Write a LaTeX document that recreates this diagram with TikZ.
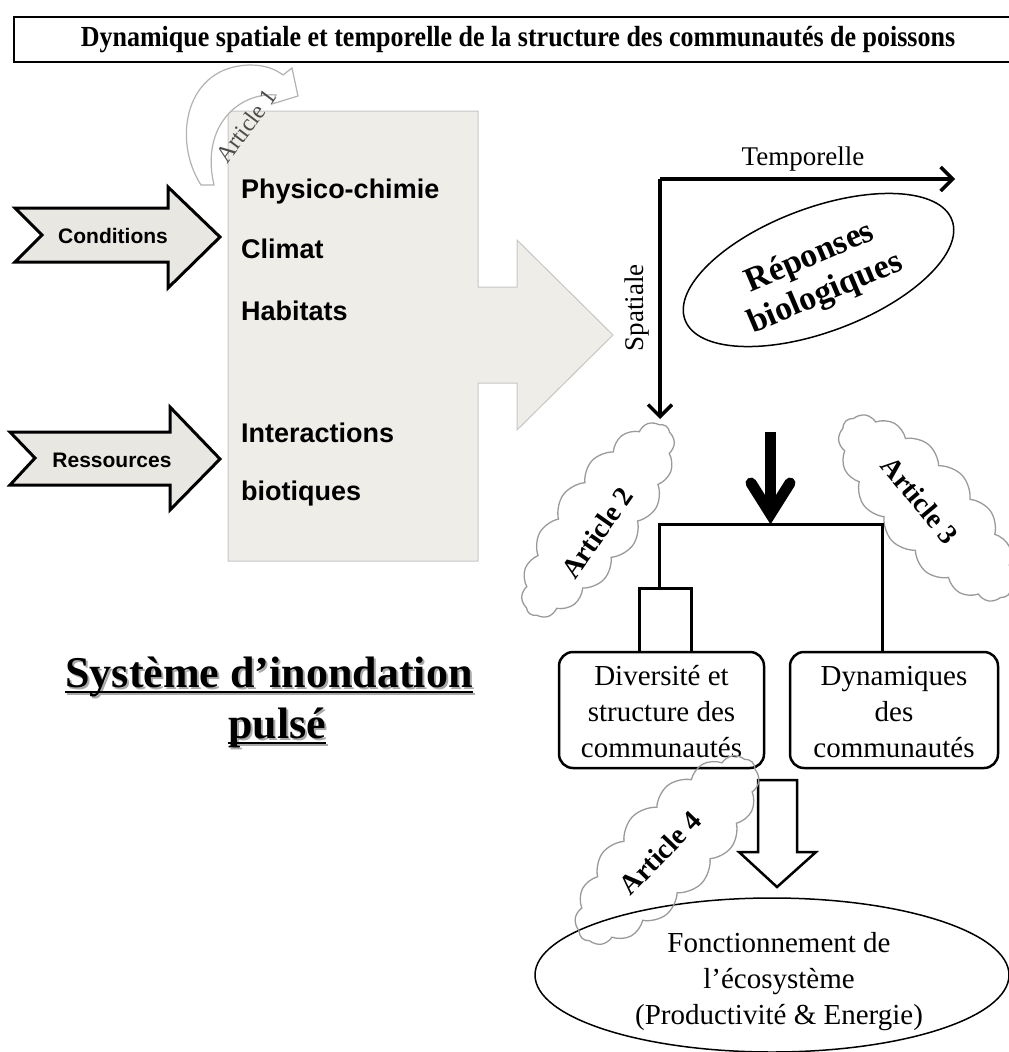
\documentclass[tikz,border=0pt]{standalone}
\usepackage{fontspec}
\setmainfont{Liberation Serif}
\newfontfamily\arialf{Liberation Sans}
\usetikzlibrary{arrows.meta,shapes.geometric,shapes.symbols,calc}
\definecolor{boxfill}{HTML}{EFEDE7}
\definecolor{arrfill}{HTML}{E9E7E1}
\definecolor{cloudline}{HTML}{9A9A9A}
\definecolor{shadowc}{HTML}{A8A8A8}
\newcommand\myul[1]{\setbox0\hbox{#1}\rlap{\rule[-6pt]{\wd0}{2.5pt}}\box0}
\begin{document}
\begin{tikzpicture}[x=1pt,y=-1pt,
  sanslbl/.style={font=\arialf\bfseries\fontsize{27}{32}\selectfont, anchor=base west, inner sep=0},
  condlbl/.style={font=\arialf\bfseries\fontsize{21}{25}\selectfont, inner sep=0},
  seriftxt/.style={font=\fontsize{29}{36}\selectfont, align=center, inner sep=0},
  cloudy/.style={cloud, cloud puffs=16, cloud puff arc=100, cloud ignores aspect, draw=cloudline, line width=1.3pt, inner sep=0},
  artlbl/.style={font=\bfseries\fontsize{28}{32}\selectfont, inner sep=0},
  blockarrow/.style={fill=arrfill, draw=black, line width=3pt, line join=miter},
  dend/.style={line width=3pt, line join=miter},
  axis/.style={line width=3.5pt, -{Straight Barb[length=12pt,width=24pt]}},
  rbox/.style={draw, line width=2.5pt, rounded corners=14pt, minimum height=116pt, inner sep=0},
  bigtxt/.style={font=\bfseries\fontsize{44}{50}\selectfont, anchor=base, inner sep=0}
]
\useasboundingbox (0,0) rectangle (1009,1052);

% title
\node[draw, line width=2.5pt, minimum width=1008pt, minimum height=45pt, inner sep=0,
      font=\bfseries\fontsize{26}{30}\selectfont] (title) at (518,39.5)
      {\scalebox{1}[1.12]{Dynamique spatiale et temporelle de la structure des communautés de poissons}};

% main box with arrow
\draw[fill=boxfill, draw=gray!45, line width=1pt]
  (228,111) -- (478,111) -- (478,287) -- (517,287) -- (517,240) -- (613,335)
  -- (517,430) -- (517,383) -- (478,383) -- (478,561) -- (228,561) -- cycle;
\node[sanslbl] (t1) at (241,198) {Physico-chimie};
\node[sanslbl] (t2) at (241,258) {Climat};
\node[sanslbl] (t3) at (241,320) {Habitats};
\node[sanslbl] (t4) at (241,442) {Interactions};
\node[sanslbl] (t5) at (241,500) {biotiques};

% Article 1 curved arrow
\draw[fill=white, draw=gray!60, line width=1.2pt]
  (201,185) .. controls (172,140) and (185,66) .. (250,65)
  .. controls (265,65) and (275,69) .. (283,75)
  -- (292,68) -- (298,96) -- (272,104) -- (276,95)
  .. controls (240,92) and (200,125) .. (214,185) -- cycle;
\node[font=\fontsize{24}{26}\selectfont, text=gray!60!black, rotate=53, inner sep=0] (a1) at (246,126) {Article 1};

% Conditions / Ressources
\draw[blockarrow] (15,208) -- (168,208) -- (168,187) -- (220,237) -- (168,288) -- (168,262) -- (15,262) -- (42,235) -- cycle;
\node[condlbl] (cond) at (113,236) {Conditions};
\draw[blockarrow] (10,432) -- (170,432) -- (170,407) -- (220,459) -- (170,510) -- (170,485) -- (10,485) -- (35,458) -- cycle;
\node[condlbl] (res) at (112,460) {Ressources};

% axes
\coordinate (ax) at (660,179);
\coordinate (axT) at (955,179);
\coordinate (axS) at (660,419);
\draw[axis] (ax) -- (axT);
\draw[axis] (ax) -- (axS);
\node[font=\fontsize{27}{30}\selectfont, inner sep=0] (temp) at (803,159) {Temporelle};
\node[font=\fontsize{27}{30}\selectfont, inner sep=0, rotate=90] (spat) at (637,308) {Spatiale};

% Reponses biologiques
\node[ellipse, draw, line width=1.5pt, minimum width=285pt, minimum height=124pt, rotate=20.5, inner sep=0] (rep) at (818.5,270) {};
\node[font=\bfseries\fontsize{34}{39}\selectfont, align=center, rotate=23, inner sep=0] (rept) at (818,276) {Réponses\\biologiques};

% clouds
\node[cloudy, minimum width=232pt, minimum height=86pt, rotate=54] (c2) at (598,520) {};
\node[artlbl, rotate=55] (a2) at (597,533) {Article 2};
\node[cloudy, minimum width=238pt, minimum height=96pt, rotate=-47] (c3) at (927,508) {};
\node[artlbl, rotate=-50] (a3) at (920,500) {Article 3};

% boxes
\node[rbox, minimum width=205pt] (lb) at (661.5,710) {};
\node[seriftxt] (lbt) at (661.5,712) {Diversité et\\structure des\\communautés};
\node[rbox, minimum width=208pt] (rb) at (894,710) {};
\node[seriftxt] (rbt) at (894,712) {Dynamiques\\des\\communautés};

% big black arrow
\coordinate (bigtop) at (770.5,432);
\coordinate (bigend) at (770.5,512);
\coordinate (armL) at (751,483);
\coordinate (armM) at (770.5,514);
\coordinate (armR) at (790,483);
\draw[line width=11pt] (bigtop) -- (bigend);
\draw[line width=11pt, line cap=round, line join=miter] (armL) -- (armM) -- (armR);

% dendrogram
\coordinate (dL) at (659,524);
\coordinate (dR) at (882,524);
\draw[dend] (659,588) -- (dL) -- (dR) -- (dR |- rb.north);
\draw[dend] (639,0 |- lb.north) -- (639,588) -- (691,588) -- (691,0 |- lb.north);

% hollow arrow
\draw[fill=white, draw=black, line width=2.5pt, line join=miter]
  (758,780) -- (797,780) -- (797,852) -- (816,852) -- (777,887) -- (739,852) -- (758,852) -- cycle;

% ecosystem ellipse
\node[ellipse, draw, line width=1.5pt, minimum width=474pt, minimum height=154pt, inner sep=0] (eco) at (772,975) {};
\node[seriftxt] (ecot) at (779,982) {Fonctionnement de\\l’écosystème\\(Productivité \& Energie)};

% Article 4 cloud
\node[cloudy, minimum width=245pt, minimum height=96pt, rotate=46] (c4) at (667,850) {};
\node[artlbl, rotate=46] (a4) at (660,853) {Article 4};

% Systeme d'inondation pulse
\node[bigtxt, text=shadowc] (sys1s) at (271,689) {\myul{Système d’inondation}};
\node[bigtxt] (sys1) at (269,687) {\myul{Système d’inondation}};
\node[bigtxt, text=shadowc] (sys2s) at (279,740) {\myul{pulsé}};
\node[bigtxt] (sys2) at (277,738) {\myul{pulsé}};
\end{tikzpicture}
\end{document}
